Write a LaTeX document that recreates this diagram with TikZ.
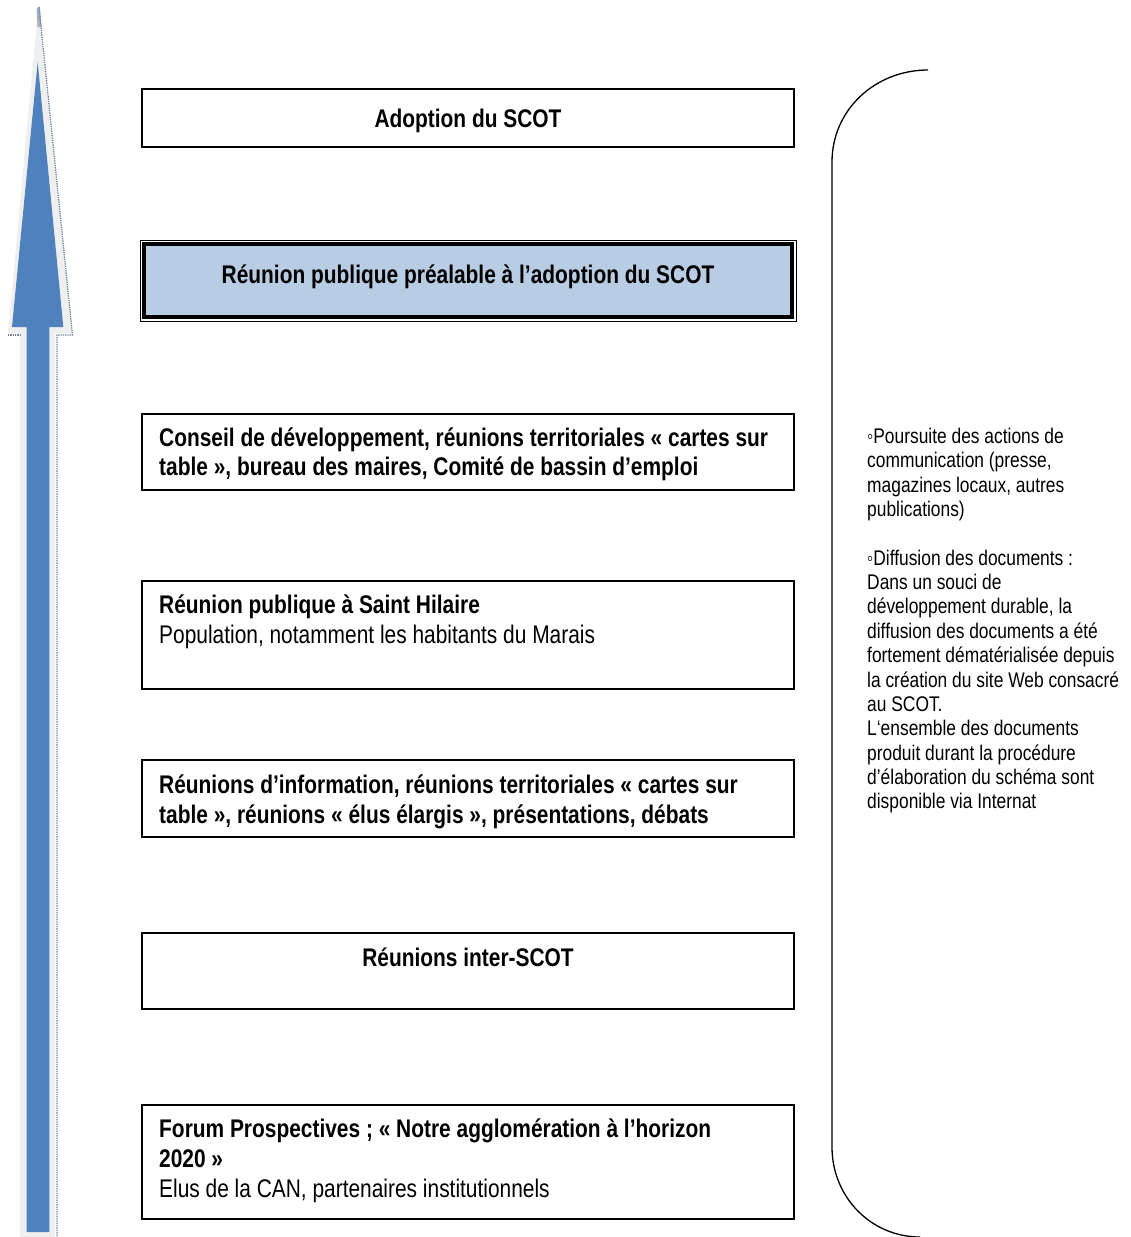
\documentclass[tikz,border=0pt]{standalone}
\usepackage{fontspec}
\setmainfont[FakeStretch=0.82]{Liberation Sans}
\definecolor{arrblue}{HTML}{4F81BD}
\definecolor{halo}{HTML}{EFEFEF}
\definecolor{shadowc}{HTML}{6F7F99}
\definecolor{boxblue}{HTML}{B8CCE4}
\begin{document}
\begin{tikzpicture}[x=1pt,y=-1pt,
  stagebox/.style={draw=black, line width=1.4pt, inner sep=0pt},
  boxtxt/.style={anchor=base west, inner sep=0pt, font=\fontsize{25.5}{29.3}\selectfont},
  boxtxtc/.style={anchor=base, inner sep=0pt, font=\fontsize{25.5}{29.3}\selectfont\bfseries},
  sidetxt/.style={anchor=base west, inner sep=0pt, font=\fontsize{21.2}{24.3}\selectfont}]
\useasboundingbox (0,0) rectangle (1130,1237);
% big arrow
\fill[halo] (38,9) -- (72,333) -- (55,333) -- (55,1237) -- (20,1237) -- (20,333) -- (8,333) -- cycle;
\fill[shadowc!60] (36.5,8) -- (40,7) -- (41.5,27) -- (37.5,27) -- cycle;
\draw[shadowc, densely dotted, line width=1.3pt] (39,7) -- (72.5,335) -- (57,335) -- (57,1237);
\draw[shadowc, densely dotted, line width=1.3pt] (8,335) -- (20,335);
\fill[arrblue] (37.7,62) -- (63.3,327) -- (49.3,327) -- (49.3,1232) -- (26.7,1232) -- (26.7,327) -- (12,327) -- cycle;
% boxes
\node[stagebox, minimum width=652pt, minimum height=58pt] (b1) at (468,118) {};
\node[draw=black, line width=1pt, inner sep=0pt, minimum width=656pt, minimum height=81pt] (b2o) at (468,280.5) {};
\node[draw=black, fill=boxblue, line width=3.2pt, inner sep=0pt, minimum width=648pt, minimum height=73pt] (b2) at (468,280.5) {};
\node[stagebox, minimum width=652pt, minimum height=76pt] (b3) at (468,452) {};
\node[stagebox, minimum width=652pt, minimum height=108pt] (b4) at (468,635) {};
\node[stagebox, minimum width=652pt, minimum height=77pt] (b5) at (468,798.5) {};
\node[stagebox, minimum width=652pt, minimum height=76pt] (b6) at (468,971) {};
\node[stagebox, minimum width=652pt, minimum height=114pt] (b7) at (468,1162) {};
% box texts
\node[boxtxtc] (t1) at (468,127.5) {Adoption du SCOT};
\node[boxtxtc] (t2) at (468,283) {Réunion publique préalable à l’adoption du SCOT};
\node[boxtxt, font=\fontsize{25.5}{29.3}\selectfont\bfseries] (t3a) at (159,446.5) {Conseil de développement, réunions territoriales « cartes sur};
\node[boxtxt, font=\fontsize{25.5}{29.3}\selectfont\bfseries] (t3b) at (159,475.5) {table », bureau des maires, Comité de bassin d’emploi};
\node[boxtxt, font=\fontsize{25.5}{29.3}\selectfont\bfseries] (t4a) at (159,613) {Réunion publique à Saint Hilaire};
\node[boxtxt] (t4b) at (159,643) {Population, notamment les habitants du Marais};
\node[boxtxt, font=\fontsize{25.5}{29.3}\selectfont\bfseries] (t5a) at (159,793.5) {Réunions d’information, réunions territoriales « cartes sur};
\node[boxtxt, font=\fontsize{25.5}{29.3}\selectfont\bfseries] (t5b) at (159,823) {table », réunions « élus élargis », présentations, débats};
\node[boxtxtc] (t6) at (468,966) {Réunions inter-SCOT};
\node[boxtxt, font=\fontsize{25.5}{29.3}\selectfont\bfseries] (t7a) at (159,1137.5) {Forum Prospectives ; « Notre agglomération à l’horizon};
\node[boxtxt, font=\fontsize{25.5}{29.3}\selectfont\bfseries] (t7b) at (159,1167) {2020 »};
\node[boxtxt] (t7c) at (159,1197) {Elus de la CAN, partenaires institutionnels};
% bracket
\draw[black, line width=1.3pt] (928,70) .. controls (875,70) and (832,110) .. (832,162) -- (832,1147) .. controls (832,1197) and (871,1237) .. (920,1237);
% side text
\node[sidetxt] (s1) at (867,443.5) {◦Poursuite des actions de};
\node[sidetxt] (s2) at (867,467.85) {communication (presse,};
\node[sidetxt] (s3) at (867,492.2) {magazines locaux, autres};
\node[sidetxt] (s4) at (867,516.55) {publications)};
\node[sidetxt] (s6) at (867,565.25) {◦Diffusion des documents :};
\node[sidetxt] (s7) at (867,589.6) {Dans un souci de};
\node[sidetxt] (s8) at (867,613.95) {développement durable, la};
\node[sidetxt] (s9) at (867,638.3) {diffusion des documents a été};
\node[sidetxt] (s10) at (867,662.65) {fortement dématérialisée depuis};
\node[sidetxt] (s11) at (867,687) {la création du site Web consacré};
\node[sidetxt] (s12) at (867,711.35) {au SCOT.};
\node[sidetxt] (s13) at (867,735.7) {L‘ensemble des documents};
\node[sidetxt] (s14) at (867,760.05) {produit durant la procédure};
\node[sidetxt] (s15) at (867,784.4) {d’élaboration du schéma sont};
\node[sidetxt] (s16) at (867,808.75) {disponible via Internat};
\end{tikzpicture}
\end{document}
